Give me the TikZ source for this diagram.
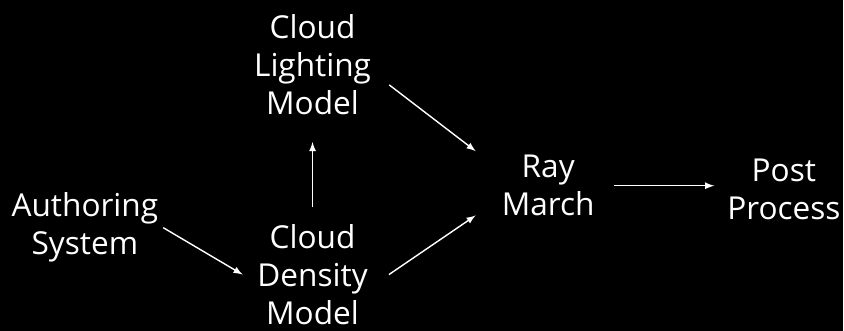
\documentclass[tikz,border=0pt]{standalone}
\usepackage{fontspec}
\setmainfont{Open Sans}
\usepackage{tikz}
\usetikzlibrary{arrows}

\begin{document}
\begin{tikzpicture}
   [x=0.02cm,y=-0.02cm,->,>=latex,white,line width=0.8pt,
    stage/.style={align=center,inner sep=2pt,
                  font=\fontsize{18}{21.6}\selectfont}]
   \fill[black] (0,0) rectangle (844,331);

   \node[stage] (author)   at (85,228)  {Authoring\\System};
   \node[stage] (density)  at (313,275) {Cloud\\Density\\Model};
   \node[stage] (lighting) at (313,65)  {Cloud\\Lighting\\Model};
   \node[stage] (ray)      at (549,186) {Ray\\March};
   \node[stage] (post)     at (785,190) {Post\\Process};

   \draw ([xshift=0.5pt]author.east) -- ([xshift=-6pt]density.west);
   \draw[shorten <=7.4pt,shorten >=13pt] (density) -- (lighting);
   \draw ([xshift=8pt,yshift=-11.4pt]lighting.east)
      -- ([xshift=-12.5pt]ray.north west);
   \draw ([xshift=9.7pt]density.east)
      -- ([xshift=-12.5pt,yshift=2.8pt]ray.south west);
   \draw[shorten <=8.5pt,shorten >=5pt] (ray.east) -- (ray.east -| post.west);
\end{tikzpicture}
\end{document}
